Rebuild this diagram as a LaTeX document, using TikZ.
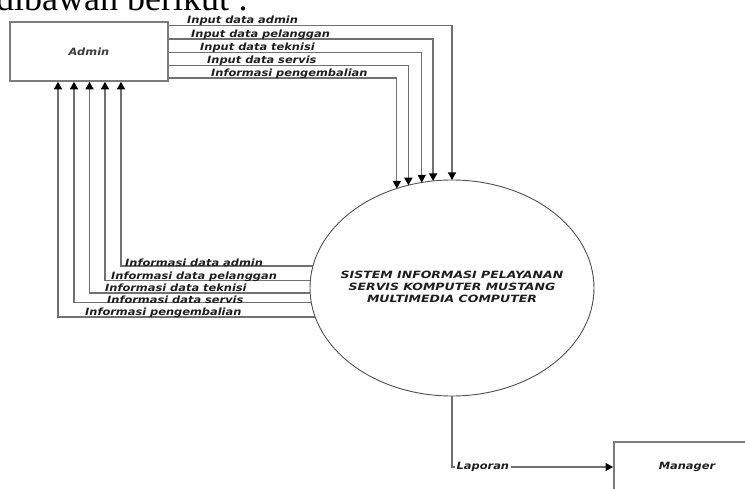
\documentclass[tikz,border=0pt]{standalone}
\usepackage{fontspec}
\setmainfont{Liberation Serif}
\newfontfamily\dvs{DejaVu Sans}
\usetikzlibrary{arrows.meta,shapes.geometric}
\definecolor{linegray}{HTML}{707070}
\definecolor{boxgray}{HTML}{7C7C7C}
\definecolor{ellgray}{HTML}{505050}
\definecolor{txt}{HTML}{1E1E1E}
\definecolor{softtxt}{HTML}{3C3C3C}
\newcommand\lbltext[2][1.14]{\scalebox{#1}[1]{\dvs\bfseries\itshape\fontsize{10}{12}\selectfont #2}}
\tikzset{
  flow/.style={draw=linegray, line width=1.3pt, -{Triangle[width=8pt,length=7.5pt,color=black]}},
  boxnode/.style={draw=boxgray, line width=1.6pt, fill=white, inner sep=0},
  lbl/.style={inner sep=0, text=txt},
}
\begin{document}
\begin{tikzpicture}[x=1pt,y=-1pt]
\useasboundingbox (0,0) rectangle (745,489);
\clip (0,0) rectangle (745,489);

% heading text (cut at top, as in the reference)
\node[anchor=base west, inner sep=0, font=\fontsize{36}{36}\selectfont] (intro) at (-4,11) {dibawah berikut :};

% entities
\node[boxnode, minimum width=158pt, minimum height=59pt, text=softtxt] (admin) at (89,51.5) {\lbltext{Admin}};
\node[boxnode, minimum width=220pt, minimum height=100pt, anchor=north west] (manager) at (613,441) {};
\node[lbl] (mtext) at (687,467) {\lbltext{Manager}};

% process
\node[ellipse, draw=ellgray, line width=0.9pt, minimum width=284pt, minimum height=216pt, inner sep=0, outer sep=0] (ell) at (452,288) {};
\node[lbl] (elltext) at (ell.center) {\lbltext[1.25]{\begin{tabular}{@{}c@{}}SISTEM INFORMASI PELAYANAN\\SERVIS KOMPUTER MUSTANG\\MULTIMEDIA COMPUTER\end{tabular}}};

% inputs from Admin
\draw[flow] (admin.east |- 0,25.5) -| (ell.90);
\draw[flow] (admin.east |- 0,39) -| (ell.100.6);
\draw[flow] (admin.east |- 0,52.5) -| (ell.106.9);
\draw[flow] (admin.east |- 0,65.5) -| (ell.113.2);
\draw[flow] (admin.east |- 0,78) -| (ell.119.4);

\node[lbl, anchor=base west] (i1) at (187,23.8) {\lbltext{Input data admin}};
\node[lbl, anchor=base west] (i2) at (191,37.3) {\lbltext{Input data pelanggan}};
\node[lbl, anchor=base west] (i3) at (200,50.8) {\lbltext{Input data teknisi}};
\node[lbl, anchor=base west] (i4) at (207,63.8) {\lbltext{Input data servis}};
\node[lbl, anchor=base west] (i5) at (211,76.3) {\lbltext{Informasi pengembalian}};

% outputs to Admin
\draw[flow] (ell.171.8) -| (admin.south -| 121,0);
\draw[flow] (ell.177.2) -| (admin.south -| 105,0);
\draw[flow] (ell.182.0) -| (admin.south -| 89.5,0);
\draw[flow] (ell.186.9) -| (admin.south -| 74,0);
\draw[flow] (ell.192.0) -| (admin.south -| 58,0);

\node[lbl, anchor=base west] (o1) at (125,266.3) {\lbltext{Informasi data admin}};
\node[lbl, anchor=base west] (o2) at (111,279.3) {\lbltext{Informasi data pelanggan}};
\node[lbl, anchor=base west] (o3) at (105,291.3) {\lbltext{Informasi data teknisi}};
\node[lbl, anchor=base west] (o4) at (107,303.3) {\lbltext{Informasi data servis}};
\node[lbl, anchor=base west] (o5) at (85,315.3) {\lbltext{Informasi pengembalian}};

% report to Manager
\coordinate (lapc) at (ell.south |- 0,467);
\draw[flow] (ell.south) -- (lapc) -- (manager.west |- lapc);
\node[lbl, fill=white, anchor=west, inner xsep=1.5pt, inner ysep=2pt] (lap) at (455,467) {\lbltext{Laporan}};
\end{tikzpicture}
\end{document}
